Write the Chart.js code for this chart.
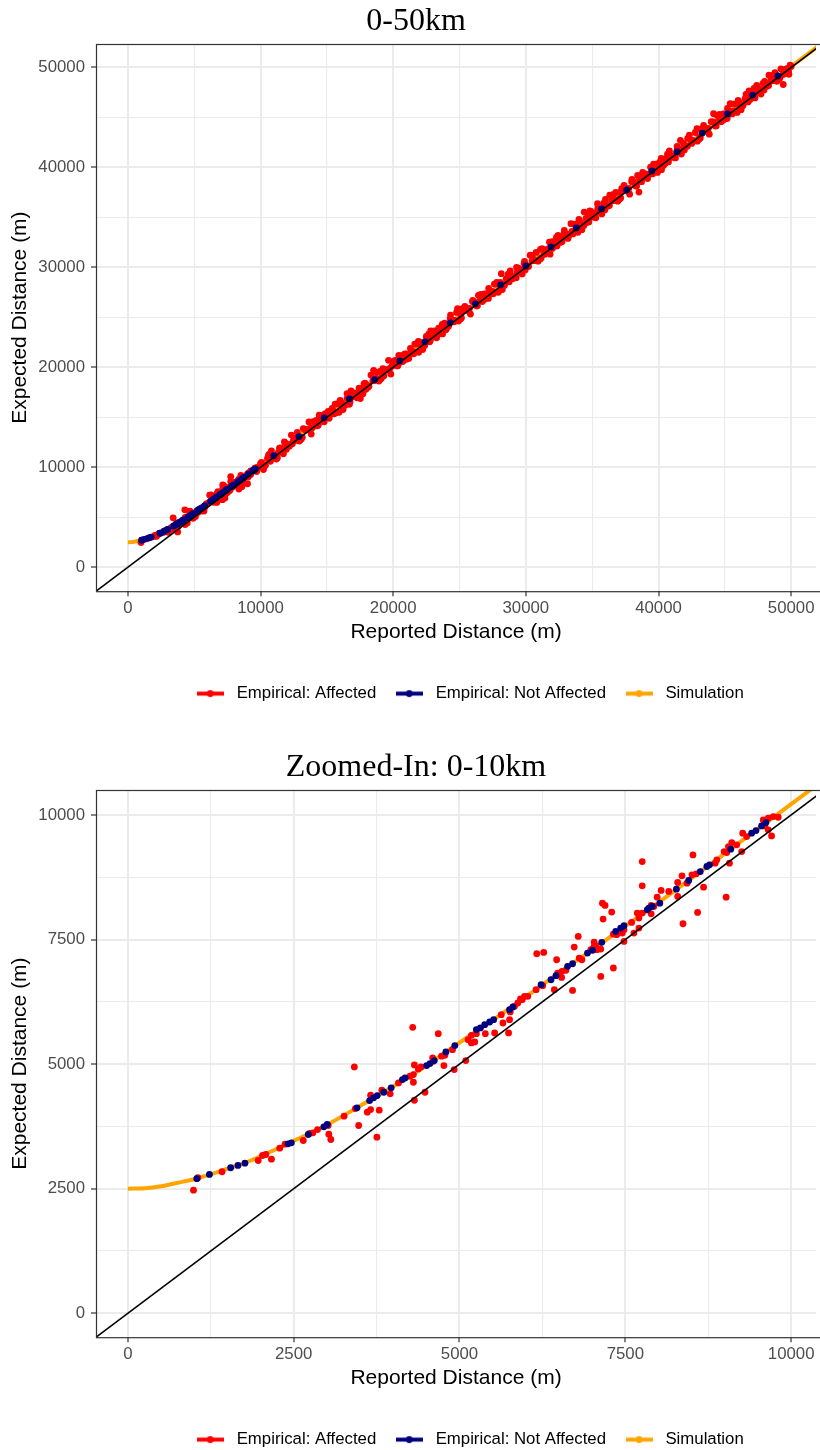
<!doctype html>
<html lang="en">
  <head>
    <meta charset="UTF-8" />
    <title>Reported vs Expected Distance</title>
    <script src="https://cdn.jsdelivr.net/npm/chart.js"></script>
    <style>
      body { margin: 0; background: white; overflow: hidden; }
      canvas { display: block; }
    </style>
  </head>
  <body>
    <canvas id="fullChart" width="820" height="746"></canvas>
    <canvas id="zoomChart" width="820" height="746"></canvas>

    <script>
      // legend / series names
      const seriesNames = ["Empirical: Affected", "Empirical: Not Affected", "Simulation"];

      // tick labels
      const fullTicks = [0, 10000, 20000, 30000, 40000, 50000];
      const zoomTicks = [0, 2500, 5000, 7500, 10000];

      // empirical points, affected, 0-10 km  [reported, expected]
      const affectedNear = [
        [990,2470],[1055,2720],[1420,2840],[1965,3066],[2030,3166],[2080,3186],[2165,3092],[2290,3313],
        [2370,3393],[2645,3467],[2740,3607],[2790,3620],[2860,3687],[3020,3768],[3030,3593],[3060,3487],
        [3260,3955],[3415,4944],[3430,4108],[3480,3768],[3610,4035],[3660,4088],[3660,4375],[3755,3533],
        [3790,4075],[3830,4475],[3955,4403],[4080,4623],[4255,4756],[4295,5738],[4305,4790],[4305,4636],
        [4320,4275],[4320,4984],[4380,4904],[4420,4944],[4480,4435],[4595,5125],[4605,5057],[4680,5611],
        [4730,5158],[4765,4970],[4780,5178],[4895,5290],[4920,4890],[5095,5070],[5130,5491],[5180,5424],
        [5180,5578],[5230,5444],[5255,5611],[5390,5611],[5530,5624],[5630,5992],[5655,5825],[5740,5625],
        [5755,5892],[5765,6046],[5830,6159],[5880,6226],[5920,6307],[5945,6293],[5980,6360],[6030,6359],
        [6155,6493],[6165,7214],[6255,6573],[6270,7241],[6430,6493],[6465,7094],[6480,6827],[6540,6740],
        [6545,6861],[6605,6881],[6705,6479],[6730,7349],[6790,7561],[6805,7128],[6845,7094],[6980,7295],
        [7030,7362],[7030,7449],[7055,7375],[7070,7295],[7130,7309],[7130,6760],[7155,8230],[7165,7910],
        [7195,8184],[7295,8050],[7320,6928],[7320,7609],[7370,7596],[7455,7629],[7480,7461],[7480,7695],
        [7595,7842],[7630,7629],[7680,8030],[7705,7729],[7705,7930],[7755,8030],[7755,9064],[7755,8577],
        [7890,8184],[7890,8016],[7930,8163],[7980,8350],[8040,8484],[8155,8464],[8290,8644],[8290,8363],
        [8355,8778],[8370,7816],[8430,8631],[8505,8798],[8520,9198],[8570,8818],[8590,8043],[8680,8550],
        [8855,9031],[8880,9098],[8990,9265],[9020,8350],[9030,9245],[9055,9365],[9070,9031],[9105,9445],
        [9180,9399],[9255,9265],[9270,9633],[9330,9565],[9580,9900],[9605,9780],[9655,9933],[9655,9700],
        [9705,9579],[9730,9967],[9805,9953]
      ];

      // empirical points, affected, 10-50 km
      const affectedFar = [
        [10000,10350],[10150,10000],[10300,10150],[10600,11220],[10750,10600],[10900,10980],[11200,10820],
        [11350,11500],[11500,11950],[11800,12530],[11950,11800],[12100,12300],[12400,12350],[12550,12700],
        [12700,12950],[13000,12750],[13150,13000],[13300,13820],[13650,14530],[13750,13900],[13900,13950],
        [14200,14680],[14350,14200],[14525,15200],[14800,14550],[14950,15100],[15100,15600],[15400,15900],
        [15550,15350],[15700,15450],[16000,16700],[16150,16300],[16300,16250],[16525,17370],[16700,16300],
        [16750,16550],[17000,17450],[17300,17200],[17350,17500],[17525,16870],[17800,18350],[17950,17800],
        [18100,18000],[18525,19700],[18550,18700],[18700,18900],[19000,19600],[19150,19000],[19300,19150],
        [19650,20700],[19750,19900],[19900,20100],[20150,20700],[20350,20150],[20400,20350],[20700,21200],
        [20950,21100],[21000,20800],[21300,21900],[21550,21350],[21600,21500],[21900,22600],[22150,22300],
        [22200,22150],[22500,23100],[22750,22550],[22800,22700],[23100,23650],[23350,23500],[23400,23300],
        [23700,24300],[23950,23750],[24000,23800],[24300,24900],[24550,24700],[24600,24550],[24850,25870],
        [25100,25300],[25150,24950],[25400,26100],[25700,25600],[25750,25900],[26000,26700],[26300,26250],
        [26350,26150],[26600,27300],[26900,26800],[26950,27100],[27200,27900],[27500,27450],[27550,27350],
        [27800,28500],[28150,29370],[28150,28300],[28400,28300],[28700,29300],[28750,28550],[29000,28850],
        [29300,30000],[29350,29500],[29600,29500],[29900,30600],[29950,29750],[30200,30100],[30500,31200],
        [30550,30700],[30800,30700],[31100,31800],[31150,30950],[31400,31300],[31750,31900],[31775,32530],
        [32000,31900],[32300,33000],[32350,32150],[32600,32500],[32900,33700],[32950,33100],[33200,33100],
        [33400,34370],[33550,33350],[33700,33600],[34000,34800],[34150,34300],[34400,35530],[34600,34500],
        [34750,34550],[34900,35600],[35200,35000],[35350,35500],[35400,36370],[35700,35700],[35950,35750],
        [36000,36800],[36300,36200],[36550,36700],[36600,37300],[36900,36750],[37150,37530],[37150,36950],
        [37400,38200],[37700,37600],[37750,37900],[38000,38800],[38300,38150],[38350,38150],[38525,37530],
        [38800,39500],[38950,39100],[39100,39000],[39400,40030],[39550,39350],[39650,40200],[39900,39800],
        [40150,40300],[40200,40900],[40500,40400],[40750,40550],[40800,41500],[41100,41000],[41350,41500],
        [41400,42100],[41650,42700],[41900,41800],[41950,41750],[42200,42900],[42500,42400],[42550,42700],
        [42900,43870],[43100,43000],[43150,42950],[43400,44200],[43700,43600],[43750,43900],[44150,45370],
        [44300,44200],[44350,44150],[44600,45300],[44900,44750],[44950,45100],[45200,45900],[45400,46370],
        [45550,45350],[45700,45600],[46000,46700],[46150,46300],[46300,46150],[46600,47300],[46750,46550],
        [46900,46800],[47200,47900],[47350,47500],[47400,48200],[47700,47600],[47950,47750],[48000,48600],
        [48300,48200],[48550,48700],[48600,49200],[48900,49200],[49150,48950],[49400,48300],[49400,49300],
        [49650,49870],[49750,49900],[49800,49600],[50000,50100],
        [10075,10495],[10375,10195],[10675,11325],[10975,11065],[11275,10955],[11575,11855],[11875,12415],
        [12175,12115],[12475,12655],[12775,13495],[13075,12835],[13375,13735],[13675,13705],[13975,14575],
        [14275,14155],[14575,14815],[14875,15355],[15175,14895],[15475,15605],[15775,16335],[16075,16495],
        [16375,16195],[16675,17325],[16975,17065],[17275,16955],[17575,17855],[17875,18415],[18175,18115],
        [18475,18655],[18775,19495],[19075,18835],[19375,19735],[19675,19705],[19975,20575],[20275,20155],
        [20575,20815],[20875,21355],[21175,20895],[21475,21605],[21775,22335],[22075,22495],[22375,22195],
        [22675,23325],[22975,23065],[23275,22955],[23575,23855],[23875,24415],[24175,24115],[24475,24655],
        [24775,25495],[25075,24835],[25375,25735],[25675,25705],[25975,26575],[26275,26155],[26575,26815],
        [26875,27355],[27175,26895],[27475,27605],[27775,28335],[28075,28495],[28375,28195],[28675,29325],
        [28975,29065],[29275,28955],[29575,29855],[29875,30415],[30175,30115],[30475,30655],[30775,31495],
        [31075,30835],[31375,31735],[31675,31705],[31975,32575],[32275,32155],[32575,32815],[32875,33355],
        [33175,32895],[33475,33605],[33775,34335],[34075,34495],[34375,34195],[34675,35325],[34975,35065],
        [35275,34955],[35575,35855],[35875,36415],[36175,36115],[36475,36655],[36775,37495],[37075,36835],
        [37375,37735],[37675,37705],[37975,38575],[38275,38155],[38575,38815],[38875,39355],[39175,38895],
        [39475,39605],[39775,40335],[40075,40495],[40375,40195],[40675,41325],[40975,41065],[41275,40955],
        [41575,41855],[41875,42415],[42175,42115],[42475,42655],[42775,43495],[43075,42835],[43375,43735],
        [43675,43705],[43975,44575],[44275,44155],[44575,44815],[44875,45355],[45175,44895],[45475,45605],
        [45775,46335],[46075,46495],[46375,46195],[46675,47325],[46975,47065],[47275,46955],[47575,47855],
        [47875,48415],[48175,48115],[48475,48655],[48775,49495],[49075,48835],[49375,49735],[49675,49705],
        [49925,50225],
        [10225,9775],[10525,10875],[10825,11645],[11125,11105],[11425,11925],[11725,11345],[12025,12185],
        [12325,13225],[12625,12685],[12925,12625],[13225,13865],[13525,13775],[13825,13325],[14125,14545],
        [14425,15205],[14725,14575],[15025,15345],[15325,15335],[15625,16325],[15925,15505],[16225,15775],
        [16525,16875],[16825,17645],[17125,17105],[17425,17925],[17725,17345],[18025,18185],[18325,19225],
        [18625,18685],[18925,18625],[19225,19865],[19525,19775],[19825,19325],[20125,20545],[20425,21205],
        [20725,20575],[21025,21345],[21325,21335],[21625,22325],[21925,21505],[22225,21775],[22525,22875],
        [22825,23645],[23125,23105],[23425,23925],[23725,23345],[24025,24185],[24325,25225],[24625,24685],
        [24925,24625],[25225,25865],[25525,25775],[25825,25325],[26125,26545],[26425,27205],[26725,26575],
        [27025,27345],[27325,27335],[27625,28325],[27925,27505],[28225,27775],[28525,28875],[28825,29645],
        [29125,29105],[29425,29925],[29725,29345],[30025,30185],[30325,31225],[30625,30685],[30925,30625],
        [31225,31865],[31525,31775],[31825,31325],[32125,32545],[32425,33205],[32725,32575],[33025,33345],
        [33325,33335],[33625,34325],[33925,33505],[34225,33775],[34525,34875],[34825,35645],[35125,35105],
        [35425,35925],[35725,35345],[36025,36185],[36325,37225],[36625,36685],[36925,36625],[37225,37865],
        [37525,37775],[37825,37325],[38125,38545],[38425,39205],[38725,38575],[39025,39345],[39325,39335],
        [39625,40325],[39925,39505],[40225,39775],[40525,40875],[40825,41645],[41125,41105],[41425,41925],
        [41725,41345],[42025,42185],[42325,43225],[42625,42685],[42925,42625],[43225,43865],[43525,43775],
        [43825,43325],[44125,44545],[44425,45205],[44725,44575],[45025,45345],[45325,45335],[45625,46325],
        [45925,45505],[46225,45775],[46525,46875],[46825,47645],[47125,47105],[47425,47925],[47725,47345],
        [48025,48185],[48325,49225],[48625,48685],[48925,48625],[49225,49865],[49525,49775],[49825,49325]
      ];

      // empirical points, not affected, 0-10 km
      const notAffectedNear = [
        [1040,2700],[1230,2786],[1550,2920],[1660,2966],[1765,3012],[2415,3400],[2465,3420],[2720,3587],
        [2955,3741],[3005,3788],[3455,4122],[3645,4268],[3705,4323],[3760,4369],[3860,4435],[3970,4523],
        [4140,4690],[4180,4723],[4505,4970],[4555,5010],[4620,5070],[4795,5244],[4930,5371],[5255,5692],
        [5315,5725],[5380,5792],[5455,5845],[5515,5892],[5755,6092],[5805,6146],[6230,6593],[6380,6693],
        [6455,6774],[6630,6961],[6705,7014],[6930,7228],[7005,7282],[7145,7443],[7355,7663],[7430,7729],
        [7480,7776],[7830,8096],[7855,8130],[7905,8163],[8020,8230],[8270,8510],[8455,8684],[8630,8864],
        [8730,8965],[8770,8998],[9090,9313],[9405,9633],[9470,9686],[9555,9780],[9620,9847]
      ];

      // empirical points, not affected, 10-50 km
      const notAffectedFar = [
        [11000,11150],[12900,13060],[14800,14950],[16700,16850],[18600,18760],[20500,20650],[22400,22550],
        [24300,24450],[26200,26350],[28100,28250],[30000,30150],[31900,32050],[33800,33950],[35700,35850],
        [37600,37740],[39500,39650],[41400,41550],[43300,43440],[45200,45350],[47100,47240],[49000,49150]
      ];

      // simulation curve
      const simulation = [
        [0,2500],[250,2510],[500,2550],[750,2620],[1000,2690],[1250,2790],[1500,2900],[1750,3010],
        [2000,3150],[2500,3460],[3000,3780],[3500,4160],[4000,4550],[4500,4970],[5000,5430],[5500,5880],
        [6000,6350],[6500,6830],[7000,7290],[7500,7770],[8000,8240],[8500,8730],[9000,9225],[9500,9720],
        [10000,10215],[12500,12700],[15000,15190],[20000,20170],[25000,25150],[30000,30140],[35000,35130],
        [40000,40120],[45000,45110],[50000,50100],[52500,52600]
      ];

      // y = x reference line end points
      const refLine = [[-10000,-10000],[70000,70000]];

      // styles
      const RED = "#FF0000";
      const NAVY = "#000080";
      const ORANGE = "#FFA500";

      Chart.defaults.font.family = "'Liberation Sans', Arial, sans-serif";
      Chart.defaults.color = "#000000";

      const toXY = (arr) => arr.map((p) => ({ x: p[0], y: p[1] }));

      function legendIcon(color) {
        const c = document.createElement("canvas");
        c.width = 27;
        c.height = 9;
        const g = c.getContext("2d");
        g.strokeStyle = color;
        g.lineWidth = 4;
        g.beginPath();
        g.moveTo(0, 4.5);
        g.lineTo(27, 4.5);
        g.stroke();
        g.fillStyle = color;
        g.beginPath();
        g.arc(13.5, 4.5, 3.4, 0, Math.PI * 2);
        g.fill();
        return c;
      }

      const legendColors = [RED, NAVY, ORANGE];
      const legendIcons = legendColors.map(legendIcon);

      // panel border (left, top, bottom; right side runs off the page)
      // and a small nudge of the title and legend to sit like the original
      const panelBorder = {
        id: "panelBorder",
        afterLayout(chart) {
          chart.legend.left += 24;
          chart.titleBlock.left += 12;
        },
        afterDraw(chart) {
          const a = chart.chartArea;
          const g = chart.ctx;
          g.save();
          g.strokeStyle = "#333333";
          g.lineWidth = 1.2;
          g.strokeRect(a.left + 0.5, a.top + 0.5, a.right - a.left + 6, a.bottom - a.top);
          g.restore();
        },
      };

      function axis(range, ticks, titleText, isX) {
        const minor = ticks.slice(1).map((v, i) => (v + ticks[i]) / 2);
        const all = ticks.concat(minor).sort((a, b) => a - b);
        const isMajor = (c) => c.tick && ticks.includes(c.tick.value);
        return {
          type: "linear",
          min: range[0],
          max: range[1],
          afterBuildTicks: (s) => {
            s.ticks = all.map((v) => ({ value: v }));
          },
          ticks: {
            autoSkip: false,
            maxRotation: 0,
            color: "#4D4D4D",
            font: { size: 16.8 },
            padding: isX ? 2 : 6,
            callback: (v) => (ticks.includes(v) ? String(v) : ""),
          },
          grid: {
            color: "#EBEBEB",
            lineWidth: (c) => (isMajor(c) ? 2 : 1.1),
            tickColor: (c) => (isMajor(c) ? "#333333" : "rgba(0,0,0,0)"),
            tickWidth: 1.2,
            tickLength: 5,
          },
          border: { display: false },
          title: {
            display: true,
            text: titleText,
            color: "#000000",
            font: { size: 21 },
            padding: isX ? { top: 0, bottom: 25 } : { top: 8, bottom: 0 },
          },
          afterFit: (s) => {
            if (isX) s.height = 79;
            else s.width = 96;
          },
        };
      }

      function makeChart(id, titleText, affected, notAffected, xRange, yRange, ticks) {
        const ctx = document.getElementById(id).getContext("2d");
        return new Chart(ctx, {
          type: "scatter",
          data: {
            datasets: [
              {
                label: "y = x",
                data: toXY(refLine),
                showLine: true,
                borderColor: "#000000",
                borderWidth: 1.6,
                pointRadius: 0,
              },
              {
                label: seriesNames[1],
                data: toXY(notAffected),
                backgroundColor: NAVY,
                borderWidth: 0,
                pointRadius: 3.4,
              },
              {
                label: seriesNames[0],
                data: toXY(affected),
                backgroundColor: RED,
                borderWidth: 0,
                pointRadius: 3.4,
              },
              {
                label: seriesNames[2],
                data: toXY(simulation),
                showLine: true,
                borderColor: ORANGE,
                borderWidth: 4,
                pointRadius: 0,
                cubicInterpolationMode: "monotone",
              },
            ],
          },
          options: {
            responsive: false,
            animation: false,
            events: [],
            layout: { padding: { left: 0, right: 0, top: 0, bottom: 34 } },
            scales: {
              x: axis(xRange, ticks, "Reported Distance (m)", true),
              y: axis(yRange, ticks, "Expected Distance (m)", false),
            },
            plugins: {
              tooltip: { enabled: false },
              title: {
                display: true,
                text: titleText,
                color: "#000000",
                font: { family: "'Liberation Serif', 'DejaVu Serif', serif", size: 32, weight: "normal", lineHeight: 1 },
                padding: { top: 6, bottom: 6 },
              },
              legend: {
                position: "bottom",
                fullSize: false,
                labels: {
                  usePointStyle: true,
                  pointStyleWidth: 36,
                  padding: 15,
                  color: "#000000",
                  font: { size: 16.8 },
                  generateLabels: () =>
                    seriesNames.map((name, i) => ({
                      text: name,
                      fillStyle: legendColors[i],
                      strokeStyle: legendColors[i],
                      lineWidth: 0,
                      pointStyle: legendIcons[i],
                      hidden: false,
                      fontColor: "#000000",
                    })),
                },
              },
            },
          },
          plugins: [panelBorder],
        });
      }

      makeChart(
        "fullChart",
        "0-50km",
        affectedNear.concat(affectedFar),
        notAffectedNear.concat(notAffectedFar),
        [-2400, 51870],
        [-2400, 52350],
        fullTicks
      );

      makeChart(
        "zoomChart",
        "Zoomed-In: 0-10km",
        affectedNear,
        notAffectedNear,
        [-480, 10375],
        [-480, 10500],
        zoomTicks
      );
    </script>
  </body>
</html>
